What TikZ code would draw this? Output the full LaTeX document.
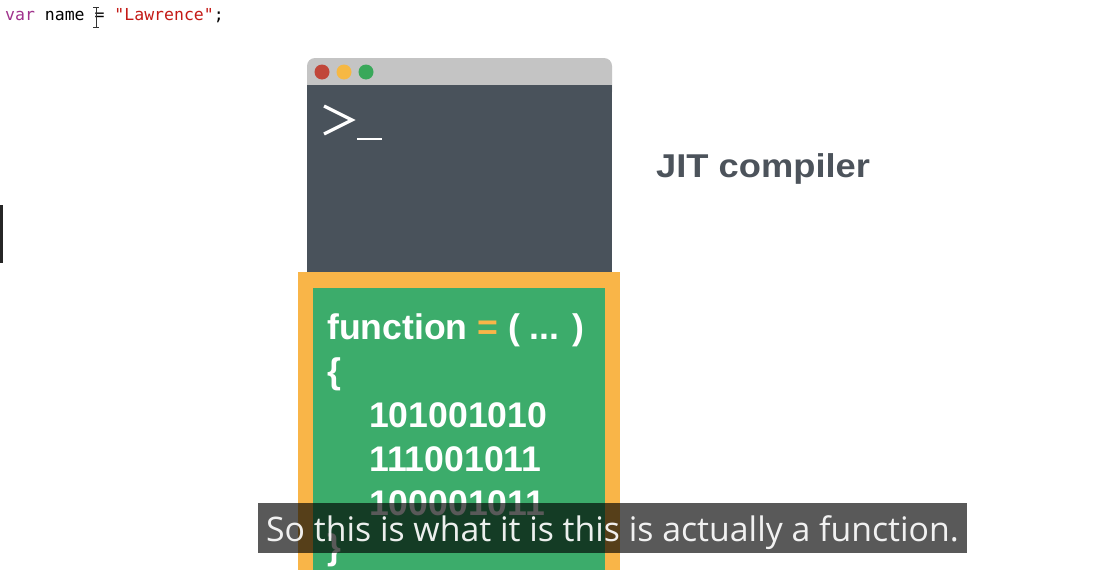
\documentclass[tikz,border=0pt]{standalone}
\usepackage{fontspec}
\setmainfont{Liberation Sans}
\newfontfamily\monof{DejaVu Sans Mono}
\newfontfamily\subf{Open Sans}
\definecolor{barbg}{HTML}{C4C4C4}
\definecolor{termbg}{HTML}{49525B}
\definecolor{dotred}{HTML}{C1473A}
\definecolor{dotyel}{HTML}{F6B843}
\definecolor{dotgrn}{HTML}{39A85A}
\definecolor{orng}{HTML}{F9B548}
\definecolor{codegrn}{HTML}{3CAC6B}
\definecolor{jitgray}{HTML}{4C535B}
\definecolor{kwpurple}{HTML}{A0328C}
\definecolor{strred}{HTML}{C41A16}
\tikzset{
  codetxt/.style={text=white, font=\bfseries\fontsize{35.6}{35.6}\selectfont, inner sep=0pt, anchor=base west},
  dotc/.style={circle, minimum size=15pt, inner sep=0pt},
  monotxt/.style={font=\monof\fontsize{16.5}{16.5}\selectfont, inner sep=0pt, anchor=base west}
}
\begin{document}
\begin{tikzpicture}[x=1pt,y=-1pt]
\useasboundingbox[fill=white] (0,0) rectangle (1109,570);
% code line
\node[monotxt] (code) at (5,20) {\textcolor{kwpurple}{var} name = \textcolor{strred}{"Lawrence"};};
\draw[black!80, line width=0.8pt] (96,7) -- (96,27) (93,7) -- (99,7) (93,27) -- (99,27);
% left cursor bar
\fill[black!85] (0,205) rectangle (3,263);
% terminal window
\fill[barbg, rounded corners=8pt] (307,58) rectangle (612,100);
\fill[termbg] (307,85) rectangle (612,274);
\node[dotc, fill=dotred] (d1) at (322,72) {};
\node[dotc, fill=dotyel] (d2) at (344,72) {};
\node[dotc, fill=dotgrn] (d3) at (366,72) {};
\draw[white, line width=3.2pt] (324,106) -- (352,120) -- (324,134);
\draw[white, line width=2.2pt] (357,139) -- (382,139);
% JIT compiler
\node[text=jitgray, font=\bfseries\fontsize{33}{33}\selectfont, inner sep=0pt, anchor=base west] (jit) at (656,177) {\scalebox{1.1}[1]{JIT compiler}};
% orange / green box
\fill[orng] (298,272) rectangle (620,570);
\fill[codegrn] (313,288) rectangle (605,570);
\node[codetxt] (f1) at (327,339) {function \textcolor{orng}{=} ( ... )};
\node[codetxt] (f2) at (327,383) {\{};
\node[codetxt] (b1) at (369,427) {101001010};
\node[codetxt] (b2) at (369,471) {111001011};
\node[codetxt] (b3) at (369,515) {100001011};
\node[codetxt] (f3) at (327,559) {\}};
% subtitle
\fill[black, fill opacity=0.65] (258,503) rectangle (967,553);
\node[text=white, text opacity=0.92, font=\subf\fontsize{33.8}{33.8}\selectfont, inner sep=0pt, anchor=base] (sub) at (612.5,541) {So this is what it is this is actually a function.};
\end{tikzpicture}
\end{document}
